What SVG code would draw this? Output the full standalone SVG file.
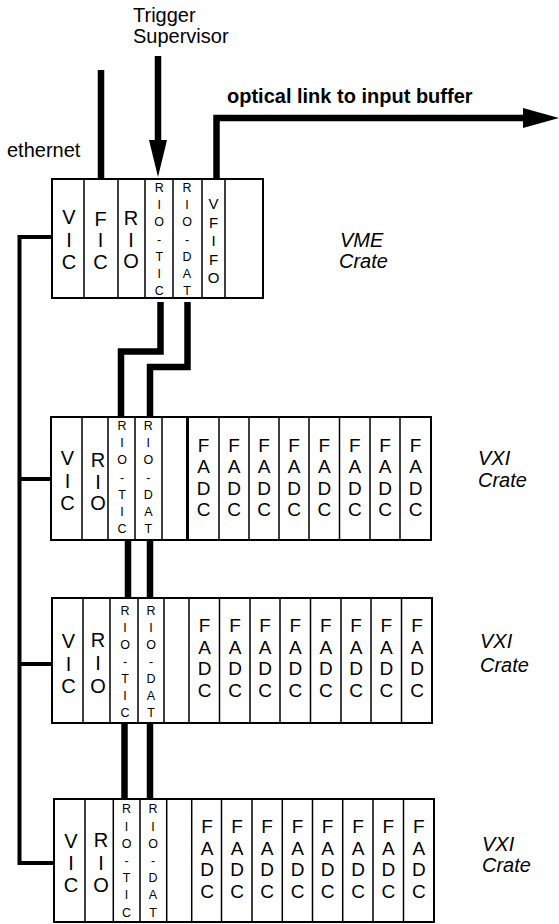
<svg xmlns="http://www.w3.org/2000/svg" width="559" height="924" viewBox="0 0 559 924">
<style>
  .box { fill: #fff; stroke: #000; stroke-width: 2; }
  .dv { stroke: #000; stroke-width: 1.5; fill: none; }
  text { font-family: "Liberation Sans", Arial, sans-serif; fill: #000; }
  .big { font-size: 20px; text-anchor: middle; }
  .mid { font-size: 15px; text-anchor: middle; }
  .sm { font-size: 12.5px; text-anchor: middle; }
  .fa { font-size: 19px; text-anchor: middle; }
  .lbl { font-size: 20px; }
  .it { font-size: 20px; font-style: italic; }
  .bold { font-size: 20px; font-weight: bold; }
  .cable { stroke: #000; stroke-width: 6.5; fill: none; stroke-linejoin: miter; stroke-linecap: butt; }
  .eth { stroke: #000; stroke-width: 4; fill: none; stroke-linejoin: miter; }
</style>

<g id="connectors">
  <path class="eth" d="M52,237 H19.5 V863 H54 M19.5,479 H51 M19.5,664 H52"/>
  <path class="cable" d="M101,70 V179"/>
  <path class="cable" d="M158,56 V142"/>
  <polygon points="149,140 167,140 158,177" fill="#000"/>
  <path class="cable" d="M216.5,179 V118 H525"/>
  <polygon points="523,108 559,118 523,128" fill="#000"/>
  <path class="cable" d="M160.5,302 V351.5 H121 V417"/>
  <path class="cable" d="M187.5,302 V367 H150 V417"/>
  <path class="cable" d="M128,540 V598 M150,540 V598"/>
  <path class="cable" d="M124.5,723 V799 M150,723 V799"/>
</g>

<g id="labels">
  <text class="lbl" x="133" y="22">Trigger</text>
  <text class="lbl" x="133" y="43">Supervisor</text>
  <text class="lbl" x="7" y="157">ethernet</text>
  <text class="bold" x="227" y="103">optical link to input buffer</text>
</g>

<g id="vme-crate">
  <rect class="box" x="52" y="179" width="211" height="119"/>
  <path class="dv" d="M84,179 V298 M118,179 V298 M145,179 V298 M173,179 V298 M202,179 V298 M225,179 V298"/>
  <text class="big"><tspan x="69" y="224">V</tspan><tspan x="69" y="246.5">I</tspan><tspan x="69" y="269">C</tspan></text>
  <text class="big"><tspan x="100.5" y="225.5">F</tspan><tspan x="100.5" y="247">I</tspan><tspan x="100.5" y="268.5">C</tspan></text>
  <text class="big"><tspan x="131" y="225">R</tspan><tspan x="131" y="247">I</tspan><tspan x="131" y="268">O</tspan></text>
  <text class="sm"><tspan x="159.2" y="192">R</tspan><tspan x="159.2" y="209.2">I</tspan><tspan x="159.2" y="226.4">O</tspan><tspan x="159.2" y="243.6">-</tspan><tspan x="159.2" y="260.8">T</tspan><tspan x="159.2" y="278">I</tspan><tspan x="159.2" y="295.2">C</tspan></text>
  <text class="sm"><tspan x="187" y="192">R</tspan><tspan x="187" y="209.2">I</tspan><tspan x="187" y="226.4">O</tspan><tspan x="187" y="243.6">-</tspan><tspan x="187" y="260.8">D</tspan><tspan x="187" y="278">A</tspan><tspan x="187" y="295.2">T</tspan></text>
  <text class="mid"><tspan x="213.5" y="209">V</tspan><tspan x="213.5" y="227.5">F</tspan><tspan x="213.5" y="246">I</tspan><tspan x="213.5" y="264.5">F</tspan><tspan x="213.5" y="283">O</tspan></text>
  <text class="it"><tspan x="340" y="247">VME</tspan><tspan x="339" y="268">Crate</tspan></text>
</g>

<g id="vxi-crate-1">
  <rect class="box" x="51" y="417" width="380" height="123"/>
  <path class="dv" d="M82,417 V540 M108,417 V540 M135,417 V540 M162,417 V540 M219,417 V540 M249,417 V540 M279,417 V540 M309,417 V540 M339.5,417 V540 M370,417 V540 M400,417 V540"/>
  <path d="M187.5,417 V540" stroke="#000" stroke-width="3"/>
  <text class="big"><tspan x="67.5" y="465">V</tspan><tspan x="67.5" y="487.5">I</tspan><tspan x="67.5" y="510">C</tspan></text>
  <text class="big"><tspan x="98" y="467">R</tspan><tspan x="98" y="488.5">I</tspan><tspan x="98" y="510">O</tspan></text>
  <text class="sm"><tspan x="122" y="430">R</tspan><tspan x="122" y="447.2">I</tspan><tspan x="122" y="464.4">O</tspan><tspan x="122" y="481.6">-</tspan><tspan x="122" y="498.8">T</tspan><tspan x="122" y="516">I</tspan><tspan x="122" y="533.2">C</tspan></text>
  <text class="sm"><tspan x="148.3" y="430">R</tspan><tspan x="148.3" y="447.2">I</tspan><tspan x="148.3" y="464.4">O</tspan><tspan x="148.3" y="481.6">-</tspan><tspan x="148.3" y="498.8">D</tspan><tspan x="148.3" y="516">A</tspan><tspan x="148.3" y="533.2">T</tspan></text>
  <g class="fadcs">
    <text class="fa"><tspan x="203.5" y="452">F</tspan><tspan x="203.5" y="473.3">A</tspan><tspan x="203.5" y="494.6">D</tspan><tspan x="203.5" y="516">C</tspan></text>
    <text class="fa"><tspan x="234" y="452">F</tspan><tspan x="234" y="473.3">A</tspan><tspan x="234" y="494.6">D</tspan><tspan x="234" y="516">C</tspan></text>
    <text class="fa"><tspan x="264" y="452">F</tspan><tspan x="264" y="473.3">A</tspan><tspan x="264" y="494.6">D</tspan><tspan x="264" y="516">C</tspan></text>
    <text class="fa"><tspan x="294" y="452">F</tspan><tspan x="294" y="473.3">A</tspan><tspan x="294" y="494.6">D</tspan><tspan x="294" y="516">C</tspan></text>
    <text class="fa"><tspan x="324.3" y="452">F</tspan><tspan x="324.3" y="473.3">A</tspan><tspan x="324.3" y="494.6">D</tspan><tspan x="324.3" y="516">C</tspan></text>
    <text class="fa"><tspan x="354.8" y="452">F</tspan><tspan x="354.8" y="473.3">A</tspan><tspan x="354.8" y="494.6">D</tspan><tspan x="354.8" y="516">C</tspan></text>
    <text class="fa"><tspan x="385" y="452">F</tspan><tspan x="385" y="473.3">A</tspan><tspan x="385" y="494.6">D</tspan><tspan x="385" y="516">C</tspan></text>
    <text class="fa"><tspan x="415.5" y="452">F</tspan><tspan x="415.5" y="473.3">A</tspan><tspan x="415.5" y="494.6">D</tspan><tspan x="415.5" y="516">C</tspan></text>
  </g>
  <text class="it"><tspan x="478" y="465">VXI</tspan><tspan x="478" y="487">Crate</tspan></text>
</g>

<g id="vxi-crate-2">
  <rect class="box" x="52" y="598" width="380" height="125"/>
  <path class="dv" d="M83,598 V723 M110,598 V723 M138,598 V723 M164,598 V723 M189,598 V723 M219.5,598 V723 M250,598 V723 M280,598 V723 M310.5,598 V723 M341,598 V723 M371,598 V723 M401.5,598 V723"/>
  <text class="big"><tspan x="68.5" y="648">V</tspan><tspan x="68.5" y="670.5">I</tspan><tspan x="68.5" y="693">C</tspan></text>
  <text class="big"><tspan x="98" y="647">R</tspan><tspan x="98" y="670">I</tspan><tspan x="98" y="693">O</tspan></text>
  <text class="sm"><tspan x="125" y="615">R</tspan><tspan x="125" y="632">I</tspan><tspan x="125" y="649">O</tspan><tspan x="125" y="666">-</tspan><tspan x="125" y="683">T</tspan><tspan x="125" y="700">I</tspan><tspan x="125" y="717">C</tspan></text>
  <text class="sm"><tspan x="151" y="615">R</tspan><tspan x="151" y="632">I</tspan><tspan x="151" y="649">O</tspan><tspan x="151" y="666">-</tspan><tspan x="151" y="683">D</tspan><tspan x="151" y="700">A</tspan><tspan x="151" y="717">T</tspan></text>
  <g class="fadcs">
    <text class="fa"><tspan x="204.5" y="632">F</tspan><tspan x="204.5" y="653.7">A</tspan><tspan x="204.5" y="675.3">D</tspan><tspan x="204.5" y="697">C</tspan></text>
    <text class="fa"><tspan x="235" y="632">F</tspan><tspan x="235" y="653.7">A</tspan><tspan x="235" y="675.3">D</tspan><tspan x="235" y="697">C</tspan></text>
    <text class="fa"><tspan x="265" y="632">F</tspan><tspan x="265" y="653.7">A</tspan><tspan x="265" y="675.3">D</tspan><tspan x="265" y="697">C</tspan></text>
    <text class="fa"><tspan x="295.3" y="632">F</tspan><tspan x="295.3" y="653.7">A</tspan><tspan x="295.3" y="675.3">D</tspan><tspan x="295.3" y="697">C</tspan></text>
    <text class="fa"><tspan x="325.8" y="632">F</tspan><tspan x="325.8" y="653.7">A</tspan><tspan x="325.8" y="675.3">D</tspan><tspan x="325.8" y="697">C</tspan></text>
    <text class="fa"><tspan x="356" y="632">F</tspan><tspan x="356" y="653.7">A</tspan><tspan x="356" y="675.3">D</tspan><tspan x="356" y="697">C</tspan></text>
    <text class="fa"><tspan x="386.3" y="632">F</tspan><tspan x="386.3" y="653.7">A</tspan><tspan x="386.3" y="675.3">D</tspan><tspan x="386.3" y="697">C</tspan></text>
    <text class="fa"><tspan x="417" y="632">F</tspan><tspan x="417" y="653.7">A</tspan><tspan x="417" y="675.3">D</tspan><tspan x="417" y="697">C</tspan></text>
  </g>
  <text class="it"><tspan x="480" y="648">VXI</tspan><tspan x="480" y="672">Crate</tspan></text>
</g>

<g id="vxi-crate-3">
  <rect class="box" x="54" y="799" width="380" height="123"/>
  <path class="dv" d="M85,799 V922 M113.3,799 V922 M140,799 V922 M166.7,799 V922 M191.7,799 V922 M221.5,799 V922 M252,799 V922 M282.3,799 V922 M312.5,799 V922 M342.7,799 V922 M373,799 V922 M403.5,799 V922"/>
  <text class="big"><tspan x="71" y="848">V</tspan><tspan x="71" y="870">I</tspan><tspan x="71" y="892">C</tspan></text>
  <text class="big"><tspan x="101" y="847">R</tspan><tspan x="101" y="869.5">I</tspan><tspan x="101" y="892">O</tspan></text>
  <text class="sm"><tspan x="126.5" y="813.3">R</tspan><tspan x="126.5" y="830.5">I</tspan><tspan x="126.5" y="847.7">O</tspan><tspan x="126.5" y="864.9">-</tspan><tspan x="126.5" y="882.1">T</tspan><tspan x="126.5" y="899.3">I</tspan><tspan x="126.5" y="916.5">C</tspan></text>
  <text class="sm"><tspan x="153" y="813.3">R</tspan><tspan x="153" y="830.5">I</tspan><tspan x="153" y="847.7">O</tspan><tspan x="153" y="864.9">-</tspan><tspan x="153" y="882.1">D</tspan><tspan x="153" y="899.3">A</tspan><tspan x="153" y="916.5">T</tspan></text>
  <g class="fadcs">
    <text class="fa"><tspan x="207" y="833">F</tspan><tspan x="207" y="854.5">A</tspan><tspan x="207" y="876">D</tspan><tspan x="207" y="897.5">C</tspan></text>
    <text class="fa"><tspan x="237" y="833">F</tspan><tspan x="237" y="854.5">A</tspan><tspan x="237" y="876">D</tspan><tspan x="237" y="897.5">C</tspan></text>
    <text class="fa"><tspan x="267" y="833">F</tspan><tspan x="267" y="854.5">A</tspan><tspan x="267" y="876">D</tspan><tspan x="267" y="897.5">C</tspan></text>
    <text class="fa"><tspan x="297.5" y="833">F</tspan><tspan x="297.5" y="854.5">A</tspan><tspan x="297.5" y="876">D</tspan><tspan x="297.5" y="897.5">C</tspan></text>
    <text class="fa"><tspan x="327.6" y="833">F</tspan><tspan x="327.6" y="854.5">A</tspan><tspan x="327.6" y="876">D</tspan><tspan x="327.6" y="897.5">C</tspan></text>
    <text class="fa"><tspan x="358" y="833">F</tspan><tspan x="358" y="854.5">A</tspan><tspan x="358" y="876">D</tspan><tspan x="358" y="897.5">C</tspan></text>
    <text class="fa"><tspan x="388.3" y="833">F</tspan><tspan x="388.3" y="854.5">A</tspan><tspan x="388.3" y="876">D</tspan><tspan x="388.3" y="897.5">C</tspan></text>
    <text class="fa"><tspan x="418.8" y="833">F</tspan><tspan x="418.8" y="854.5">A</tspan><tspan x="418.8" y="876">D</tspan><tspan x="418.8" y="897.5">C</tspan></text>
  </g>
  <text class="it"><tspan x="482" y="851">VXI</tspan><tspan x="482" y="872">Crate</tspan></text>
</g>
</svg>
